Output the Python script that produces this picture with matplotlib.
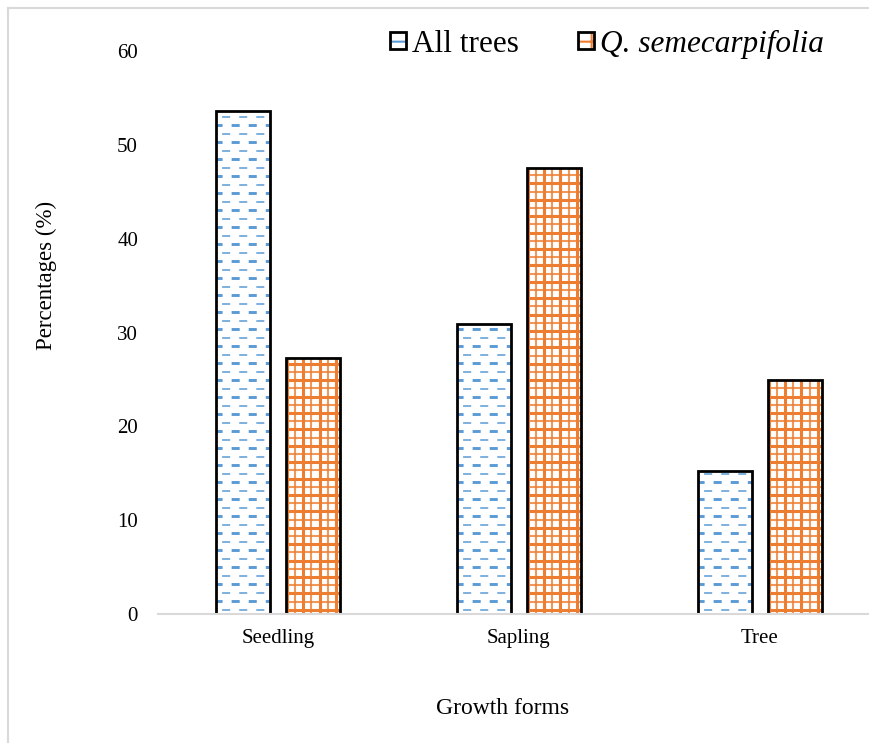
import numpy as np
import matplotlib.pyplot as plt
from matplotlib.patches import Patch
from matplotlib.lines import Line2D
from matplotlib.legend_handler import HandlerTuple

plt.rcParams['font.family'] = ['Liberation Serif', 'DejaVu Serif']
plt.rcParams['hatch.linewidth'] = 1.5
plt.rcParams['lines.scale_dashes'] = False

# Share of each growth form (%)
forms = ['Seedling', 'Sapling', 'Tree']
all_trees = [53.6, 30.9, 15.2]
q_semecarpifolia = [27.3, 47.5, 24.9]
yticks = [0, 10, 20, 30, 40, 50, 60]
series_names = ['All trees', 'Q. semecarpifolia']

blue = '#5B9BD5'
orange = '#ED7D31'
grey = '#D9D9D9'

W, H = 869, 743
fig = plt.figure(figsize=(W / 100, H / 100), dpi=100)
ax = fig.add_axes([157.5 / W, 129 / H, 711.5 / W, 563 / H])

x = np.arange(len(forms))
width = 0.224
off = 0.145

# All trees: white bars filled with rows of blue dashes
bars_a = ax.bar(x - off, all_trees, width, facecolor='white', linewidth=0, zorder=2)
for bar in bars_a:
    x0, x1 = bar.get_x(), bar.get_x() + bar.get_width()
    y = 0.45
    row = 0
    while y < bar.get_height():
        if row % 2 == 0:
            ln, = ax.plot([x0, x1], [y, y], color=blue, lw=1.1,
                          linestyle=(7.9, (5.8, 6.5)), zorder=2.5)
        else:
            ln, = ax.plot([x0, x1], [y, y], color=blue, lw=2.1,
                          linestyle=(1.4, (5.8, 6.5)), zorder=2.5)
        ln.set_clip_path(bar)
        y += 0.906
        row += 1
ax.bar(x - off, all_trees, width, fill=False, edgecolor='black', linewidth=2, zorder=3)

# Q. semecarpifolia: orange grid, thick and thin lines alternating
bars_q = ax.bar(x + off, q_semecarpifolia, width, facecolor='white', linewidth=0, zorder=2)
for bar in bars_q:
    x0, x1 = bar.get_x(), bar.get_x() + bar.get_width()
    top = bar.get_height()
    lines = []
    k = 0
    xv = x0 + 0.004
    while xv < x1:
        lines.append(ax.plot([xv, xv], [0, top], color=orange,
                             lw=2.2 if k % 2 == 0 else 1.5,
                             alpha=1.0 if k % 2 == 0 else 0.8, zorder=2.5)[0])
        xv += 0.034
        k += 1
    k = 0
    yh = 0.45
    while yh < top:
        lines.append(ax.plot([x0, x1], [yh, yh], color=orange,
                             lw=2.2 if k % 2 == 0 else 1.5,
                             alpha=1.0 if k % 2 == 0 else 0.8, zorder=2.5)[0])
        yh += 0.874
        k += 1
    for ln in lines:
        ln.set_clip_path(bar)
ax.bar(x + off, q_semecarpifolia, width, fill=False, edgecolor='black', linewidth=2, zorder=3)

ax.set_xlim(-0.5, 2.454)
ax.set_ylim(0, 60)
ax.set_yticks(yticks)
ax.set_xticks(x)
ax.set_xticklabels(forms)
for s in ['top', 'right', 'left']:
    ax.spines[s].set_visible(False)
ax.spines['bottom'].set_color(grey)
ax.spines['bottom'].set_linewidth(1.5)
ax.spines['bottom'].set_zorder(4)
ax.tick_params(axis='y', length=0, labelsize=15, pad=14)
ax.tick_params(axis='x', length=0, labelsize=15, pad=11)

ax.set_xlabel('Growth forms', fontsize=17)
ax.xaxis.label.set_va('center')
ax.xaxis.set_label_coords(0.4856, -0.167)
ax.set_ylabel('Percentages (%)', fontsize=16.5)
ax.yaxis.label.set_va('center')
ax.yaxis.set_label_coords(-0.1567, 0.602)

handles = [
    (Patch(facecolor='white', edgecolor=blue, hatch='-', linewidth=0),
     Patch(facecolor='none', edgecolor='black', linewidth=2)),
    (Patch(facecolor='white', edgecolor=orange, hatch='+', linewidth=0),
     Patch(facecolor='none', edgecolor='black', linewidth=2)),
]
leg = fig.legend(handles, series_names, ncol=2, frameon=False, fontsize=22.5,
                 loc='center', bbox_to_anchor=(607 / W, 1 - 44 / H),
                 handlelength=0.5, handleheight=0.5, handletextpad=0.2,
                 columnspacing=1.9, handler_map={tuple: HandlerTuple()})
leg.get_texts()[1].set_fontstyle('italic')

# thin grey frame along the left and top edges
fig.add_artist(Line2D([8 / W, 8 / W], [0, 1 - 8 / H], transform=fig.transFigure,
                      color=grey, lw=1.5))
fig.add_artist(Line2D([8 / W, 1], [1 - 8 / H, 1 - 8 / H], transform=fig.transFigure,
                      color=grey, lw=1.5))

fig.savefig('out.png', dpi=100)
